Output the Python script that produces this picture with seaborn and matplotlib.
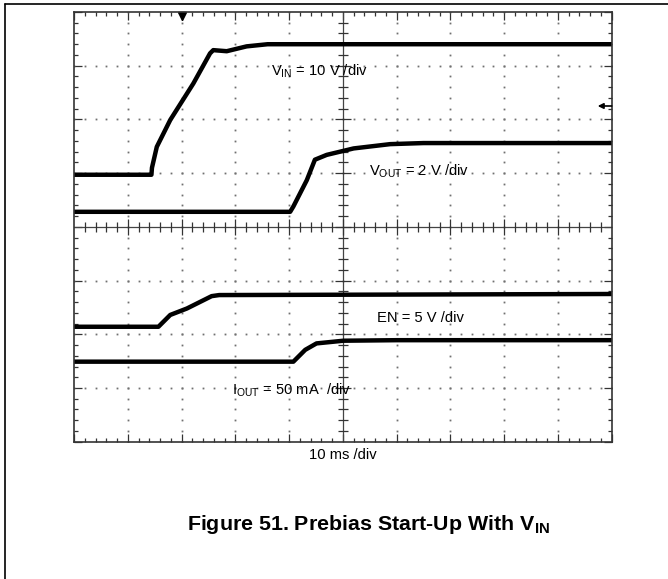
import numpy as np
import pandas as pd
import seaborn as sns
import matplotlib.pyplot as plt
from matplotlib.lines import Line2D

# scope traces, in screen divisions (x: 0..10 at 10 ms/div, y: 0..8)
vin_x = [0, 1.44, 1.45, 1.54, 1.79, 2.22, 2.53, 2.59, 2.84, 3.21, 3.6, 10]
vin_y = [4.97, 4.97, 5.10, 5.49, 5.99, 6.67, 7.23, 7.29, 7.27, 7.36, 7.40, 7.40]

vout_x = [0, 4.02, 4.08, 4.33, 4.48, 4.70, 5.20, 5.88, 6.5, 10]
vout_y = [4.28, 4.28, 4.38, 4.87, 5.25, 5.34, 5.46, 5.54, 5.56, 5.56]

en_x = [0, 1.57, 1.79, 2.10, 2.56, 2.7, 10]
en_y = [2.14, 2.14, 2.36, 2.48, 2.71, 2.73, 2.75]

iout_x = [0, 4.08, 4.30, 4.51, 5.01, 6.0, 10]
iout_y = [1.49, 1.49, 1.71, 1.83, 1.88, 1.89, 1.89]

traces = {'VIN': (vin_x, vin_y), 'VOUT': (vout_x, vout_y),
          'EN': (en_x, en_y), 'IOUT': (iout_x, iout_y)}

sns.set_theme(style='white')
plt.rcParams['font.family'] = ['Liberation Sans', 'DejaVu Sans']
plt.rcParams['text.color'] = 'black'
plt.rcParams['mathtext.fontset'] = 'custom'
plt.rcParams['mathtext.rm'] = 'Liberation Sans'
plt.rcParams['mathtext.it'] = 'Liberation Sans:italic'
plt.rcParams['mathtext.bf'] = 'Liberation Sans:bold'

fig = plt.figure(figsize=(6.68, 5.79), dpi=100)
ax = fig.add_axes([74 / 668, 1 - 441.7 / 579, 537.7 / 668, 429.7 / 579])

ax.set_xlim(0, 10)
ax.set_ylim(0, 8)

# dotted graticule
minor = np.arange(0, 10.01, 0.2)
minor_y = np.arange(0, 8.01, 0.2)
for gx in range(1, 10):
    if gx != 5:
        ax.plot([gx] * len(minor_y), minor_y, ls='none', marker='s', ms=1.3,
                color='#707070', mew=0)
for gy in range(1, 8):
    if gy != 4:
        ax.plot(minor, [gy] * len(minor), ls='none', marker='s', ms=1.3,
                color='#707070', mew=0)

# center cross with ticks
ax.axvline(5, color='#444444', lw=0.9)
ax.axhline(4, color='#444444', lw=0.9)
mx = [v for v in minor if abs(v - round(v)) > 1e-6]
my = [v for v in minor_y if abs(v - round(v)) > 1e-6]
ax.plot(mx, [4] * len(mx), ls='none', marker='|', ms=6.5, mew=0.9, color='#333333')
ax.plot(range(1, 10), [4] * 9, ls='none', marker='|', ms=11, mew=0.9, color='#333333')
ax.plot([5] * len(my), my, ls='none', marker='_', ms=6.5, mew=0.9, color='#333333')
ax.plot([5] * 7, range(1, 8), ls='none', marker='_', ms=11, mew=0.9, color='#333333')

# traces
for name, (tx, ty) in traces.items():
    df = pd.DataFrame({'t': tx, 'v': ty})
    sns.lineplot(data=df, x='t', y='v', ax=ax, color='black', lw=3.2,
                 estimator=None, sort=False)

ax.set_xlabel('')
ax.set_ylabel('')

# border ticks
ax.set_xticks(range(0, 11))
ax.set_yticks(range(0, 9))
ax.set_xticks(minor, minor=True)
ax.set_yticks(minor_y, minor=True)
ax.tick_params(which='both', direction='in', top=True, right=True, bottom=True,
               left=True, labelbottom=False, labelleft=False, color='#333333')
ax.tick_params(which='major', length=5.8, width=0.9)
ax.tick_params(which='minor', length=2.9, width=0.9)
for s in ax.spines.values():
    s.set_color('#333333')
    s.set_linewidth(1.2)

# trigger marker and level arrow
ax.plot([2.0], [7.93], marker='v', ms=6, color='black', clip_on=False)
ax.plot([2.0, 2.0], [7.93, 7.85], color='black', lw=0.8)
ax.annotate('', xy=(9.74, 6.25), xytext=(10.0, 6.25),
            arrowprops=dict(arrowstyle='-|>', color='black', lw=1.2,
                            mutation_scale=8, shrinkA=0, shrinkB=0))

fs = 10.6
ax.text(3.67, 6.89, r'V$_{\mathrm{IN}}$ = 10 V /div', fontsize=fs, va='center')
ax.text(5.49, 5.03, r'V$_{\mathrm{OUT}}$ = 2 V /div', fontsize=fs, va='center')
ax.text(5.64, 2.31, 'EN = 5 V /div', fontsize=fs, va='center')
ax.text(2.93, 0.95, r'I$_{\mathrm{OUT}}$ = 50 mA  /div', fontsize=fs, va='center')
ax.text(5.0, -0.25, '10 ms /div', fontsize=fs, ha='center', va='center')

fig.text(187 / 668, 1 - 525 / 579,
         r'Figure 51. Prebias Start-Up With V$_{\mathbf{IN}}$',
         fontsize=15.4, fontweight='bold', ha='left', va='center')

# page frame
fig.add_artist(Line2D([5 / 668, 1], [1 - 4 / 579, 1 - 4 / 579],
                      transform=fig.transFigure, color='black', lw=1.2))
fig.add_artist(Line2D([5 / 668, 5 / 668], [0, 1 - 4 / 579],
                      transform=fig.transFigure, color='black', lw=1.2))

fig.savefig('out.png', dpi=100)
